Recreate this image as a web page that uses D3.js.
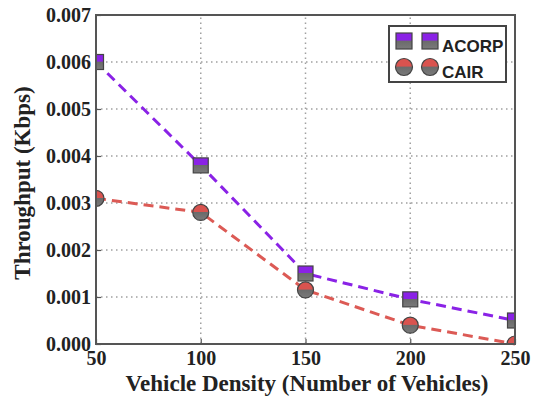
<!DOCTYPE html>
<html>
<head>
<meta charset="utf-8">
<script src="https://cdn.jsdelivr.net/npm/d3@7"></script>
<style>
  body { margin: 0; background: #fff; }
  text { font-family: "Liberation Serif", "DejaVu Serif", serif; font-weight: bold; fill: #222; }
</style>
</head>
<body>
<svg id="chart"></svg>
<script>
const vehicles = [50, 100, 150, 200, 250];
const acorp = [0.0060, 0.0038, 0.0015, 0.00095, 0.0005];
const cair = [0.0031, 0.0028, 0.00115, 0.0004, 0.0];
const xTicks = [50, 100, 150, 200, 250];
const yTicks = [0, 0.001, 0.002, 0.003, 0.004, 0.005, 0.006, 0.007];

const W = 533, H = 398;
const margin = { left: 96, right: 18, top: 15, bottom: 54 };

const svg = d3.select('#chart').attr('width', W).attr('height', H);

const x = d3.scaleLinear().domain([50, 250]).range([margin.left, W - margin.right]);
const y = d3.scaleLinear().domain([0, 0.007]).range([H - margin.bottom, margin.top]);

// clip for markers
svg.append('clipPath').attr('id', 'plotClip')
  .append('rect')
  .attr('x', margin.left).attr('y', margin.top)
  .attr('width', x(250) - x(50)).attr('height', y(0) - y(0.007));

// gradients for two-tone markers
const defs = svg.append('defs');
function twoTone(id, top) {
  const g = defs.append('linearGradient').attr('id', id)
    .attr('x1', 0).attr('y1', 0).attr('x2', 0).attr('y2', 1);
  g.append('stop').attr('offset', '0%').attr('stop-color', top);
  g.append('stop').attr('offset', '45%').attr('stop-color', top);
  g.append('stop').attr('offset', '50%').attr('stop-color', '#6b6b6b');
  g.append('stop').attr('offset', '100%').attr('stop-color', '#7a7a7a');
}
twoTone('gPurple', '#8a22e6');
twoTone('gRed', '#d9534f');

// grid
const grid = svg.append('g');
grid.selectAll('.gx').data(xTicks.slice(1, -1)).enter().append('line')
  .attr('x1', d => x(d)).attr('x2', d => x(d))
  .attr('y1', y(0)).attr('y2', y(0.007))
  .attr('stroke', '#a0a0a0').attr('stroke-width', 1.5).attr('stroke-dasharray', '1.5,3.5');
grid.selectAll('.gy').data(yTicks.slice(1, -1)).enter().append('line')
  .attr('x1', x(50)).attr('x2', x(250))
  .attr('y1', d => y(d)).attr('y2', d => y(d))
  .attr('stroke', '#a0a0a0').attr('stroke-width', 1.5).attr('stroke-dasharray', '1.5,3.5');

// axes
const xAxis = svg.append('g').attr('transform', `translate(0,${y(0)})`)
  .call(d3.axisBottom(x).tickValues(xTicks).tickSizeInner(-5).tickSizeOuter(0).tickPadding(7));
const yAxis = svg.append('g').attr('transform', `translate(${x(50)},0)`)
  .call(d3.axisLeft(y).tickValues(yTicks).tickFormat(d3.format('.3f')).tickSizeInner(-5).tickSizeOuter(0).tickPadding(5));
[xAxis, yAxis].forEach(a => {
  a.select('.domain').remove();
  a.selectAll('.tick line').attr('stroke', '#555').attr('stroke-width', 1.2);
  a.selectAll('.tick text').style('font-size', '20px').attr('fill', '#222');
});
xAxis.selectAll('.tick text').attr('dy', '0.71em');

// lines
const line = d3.line().x((d, i) => x(vehicles[i])).y(d => y(d));
svg.append('path').datum(acorp).attr('d', line)
  .attr('fill', 'none').attr('stroke', '#8a22e6').attr('stroke-width', 3)
  .attr('stroke-dasharray', '10,6');
svg.append('path').datum(cair).attr('d', line)
  .attr('fill', 'none').attr('stroke', '#dc5a55').attr('stroke-width', 3)
  .attr('stroke-dasharray', '10,6');

// markers
const S = 15;
const marks = svg.append('g').attr('clip-path', 'url(#plotClip)');
marks.selectAll('.sq').data(acorp).enter().append('rect')
  .attr('x', (d, i) => x(vehicles[i]) - S / 2).attr('y', d => y(d) - S / 2)
  .attr('width', S).attr('height', S)
  .attr('fill', 'url(#gPurple)').attr('stroke', '#444').attr('stroke-width', 1.2);
marks.selectAll('.ci').data(cair).enter().append('circle')
  .attr('cx', (d, i) => x(vehicles[i])).attr('cy', d => y(d)).attr('r', S / 2 + 0.5)
  .attr('fill', 'url(#gRed)').attr('stroke', '#444').attr('stroke-width', 1.2);

// frame
svg.append('rect')
  .attr('x', x(50)).attr('y', y(0.007))
  .attr('width', x(250) - x(50)).attr('height', y(0) - y(0.007))
  .attr('fill', 'none').attr('stroke', '#555').attr('stroke-width', 2);

// axis titles
svg.append('text').attr('x', 307).attr('y', 391).attr('text-anchor', 'middle')
  .style('font-size', '23px').text('Vehicle Density (Number of Vehicles)');
svg.append('text').attr('transform', 'translate(30,183) rotate(-90)').attr('text-anchor', 'middle')
  .style('font-size', '23px').text('Throughput (Kbps)');

// legend
const lg = svg.append('g');
lg.append('rect').attr('x', 389).attr('y', 26).attr('width', 117).attr('height', 56)
  .attr('fill', '#fff').attr('stroke', '#444').attr('stroke-width', 2);
const legendItems = [
  { name: 'ACORP', shape: 'sq', fill: 'url(#gPurple)', cy: 41 },
  { name: 'CAIR', shape: 'ci', fill: 'url(#gRed)', cy: 67 }
];
legendItems.forEach(it => {
  [404, 430].forEach(cx => {
    if (it.shape === 'sq') {
      lg.append('rect').attr('x', cx - 8).attr('y', it.cy - 8).attr('width', 16).attr('height', 16)
        .attr('fill', it.fill).attr('stroke', '#444').attr('stroke-width', 1.2);
    } else {
      lg.append('circle').attr('cx', cx).attr('cy', it.cy).attr('r', 8.5)
        .attr('fill', it.fill).attr('stroke', '#444').attr('stroke-width', 1.2);
    }
  });
  lg.append('text').attr('x', 442).attr('y', it.cy + 11)
    .style('font-family', '"Liberation Sans", Arial, sans-serif').style('font-size', '17px')
    .attr('fill', '#1f2a44').text(it.name);
});
</script>
</body>
</html>
